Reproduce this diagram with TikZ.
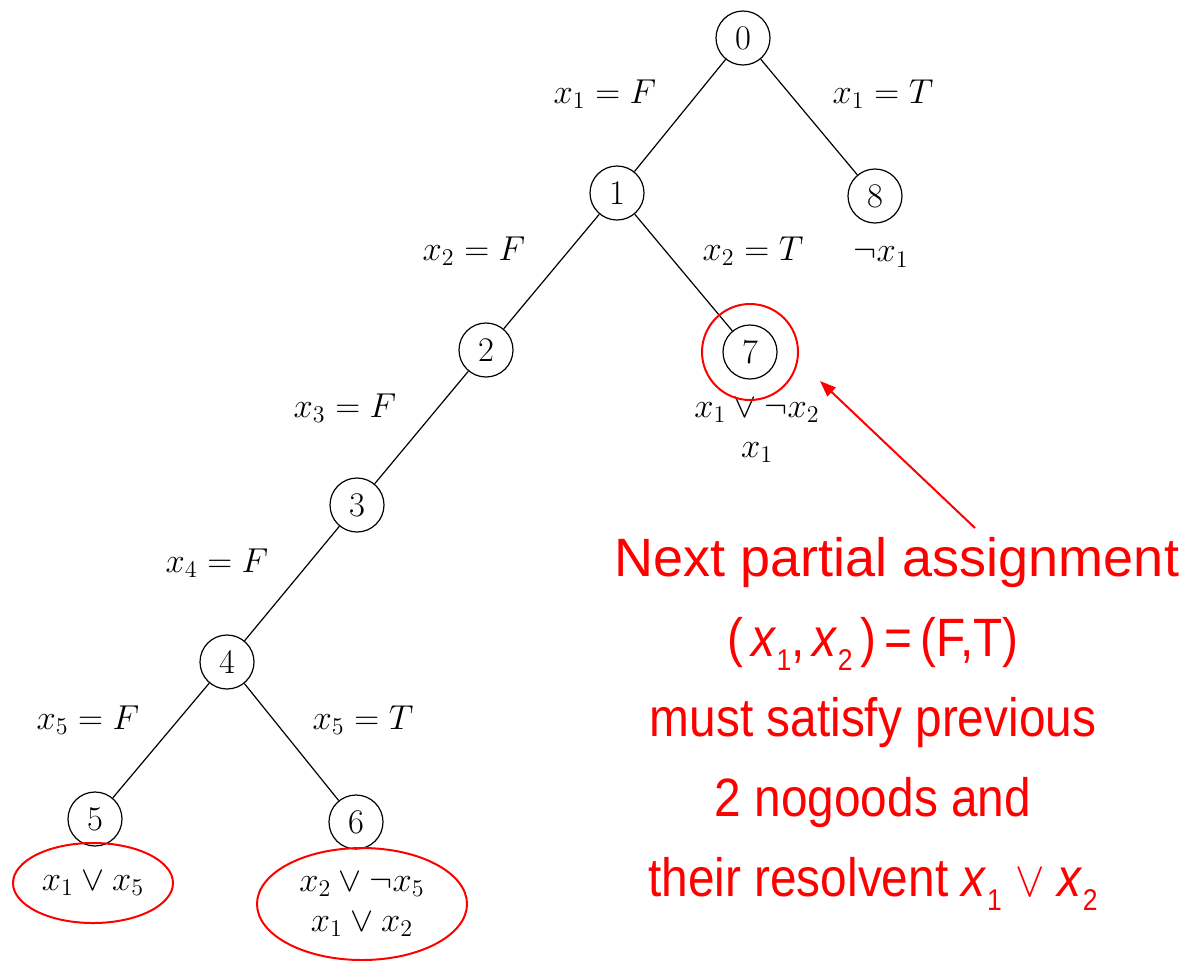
\documentclass[tikz,border=0pt]{standalone}
\usepackage{fontspec}
\usepackage{tikz}
\usetikzlibrary{arrows.meta,shapes.geometric}
\newfontfamily\notefont{Liberation Sans}
\definecolor{notered}{HTML}{FF0000}
\newcommand{\redvar}[1]{\textit{x}\raisebox{-7pt}{\fontsize{15}{15}\selectfont #1}}
\newcommand{\narrow}[1]{\scalebox{0.885}[1]{#1}}

\begin{document}
\begin{tikzpicture}[x=0.5pt,y=-0.5pt,
			knoten/.style={draw,circle,line width=0.6pt,minimum size=27pt,inner sep=0pt,font=\fontsize{17}{20}\selectfont},
			kante/.style={line width=0.6pt},
			lbl/.style={font=\fontsize{17}{20}\selectfont,inner sep=0pt,align=center},
			nogood/.style={draw=notered,line width=1pt,ellipse,inner sep=0pt,font=\fontsize{17}{20}\selectfont,align=center},
			note/.style={text=notered,font=\notefont\fontsize{27}{40}\selectfont,align=center,inner sep=0pt}
			]
			\useasboundingbox (0,0) rectangle (1192,960);
			% search tree
			\node[knoten] (n0) at (743,38) {$0$};
			\node[knoten] (n1) at (617,193) {$1$};
			\node[knoten] (n8) at (875,196) {$8$};
			\node[knoten] (n2) at (486,350) {$2$};
			\node[knoten] (n7) at (750,352) {$7$};
			\node[knoten] (n3) at (357,505) {$3$};
			\node[knoten] (n4) at (227,662) {$4$};
			\node[knoten] (n5) at (95,819) {$5$};
			\node[knoten] (n6) at (356,822) {$6$};
			\draw[kante] (n0) -- (n1);
			\draw[kante] (n0) -- (n8);
			\draw[kante] (n1) -- (n2);
			\draw[kante] (n1) -- (n7);
			\draw[kante] (n2) -- (n3);
			\draw[kante] (n3) -- (n4);
			\draw[kante] (n4) -- (n5);
			\draw[kante] (n4) -- (n6);
			% branch labels
			\node[lbl] (b1f) at (605,94) {$x_1 = F$};
			\node[lbl] (b1t) at (883,94) {$x_1 = T$};
			\node[lbl] (b2f) at (474,251) {$x_2 = F$};
			\node[lbl] (b2t) at (753,251) {$x_2 = T$};
			\node[lbl] (b3f) at (345,408) {$x_3 = F$};
			\node[lbl] (b4f) at (217,563) {$x_4 = F$};
			\node[lbl] (b5f) at (88,720) {$x_5 = F$};
			\node[lbl] (b5t) at (363,720) {$x_5 = T$};
			% nogoods
			\node[lbl] (ng8) at (881,257) {$\neg x_1$};
			\node[lbl] (ng7) at (757,430) {$x_1 \vee \neg x_2$\\$x_1$};
			\node[nogood,minimum width=80pt,minimum height=40pt] (ng5) at (93,883) {$x_1 \vee x_5$};
			\node[nogood,minimum width=105pt,minimum height=56pt] (ng6) at (362,904) {$x_2 \vee \neg x_5$\\$x_1 \vee x_2$};
			\node[draw=notered,line width=1pt,circle,minimum size=48pt] (ring7) at (n7) {};
			% remark
			\node[note] (remark) at (873,724) {\hspace*{24pt}Next partial assignment\\
				\narrow{(\,\redvar{1},\,\redvar{2}\,)\,=\,(F,T)}\\
				\narrow{must satisfy previous}\\
				\narrow{2 nogoods and}\\
				\narrow{their resolvent \redvar{1} $\vee$ \redvar{2}}};
			\coordinate (arrtail) at (975,528);
			\coordinate (arrtip) at (820,381);
			\draw[notered,line width=1pt,-{Triangle[length=8pt,width=6pt]}] (arrtail) -- (arrtip);
		\end{tikzpicture}
\end{document}
